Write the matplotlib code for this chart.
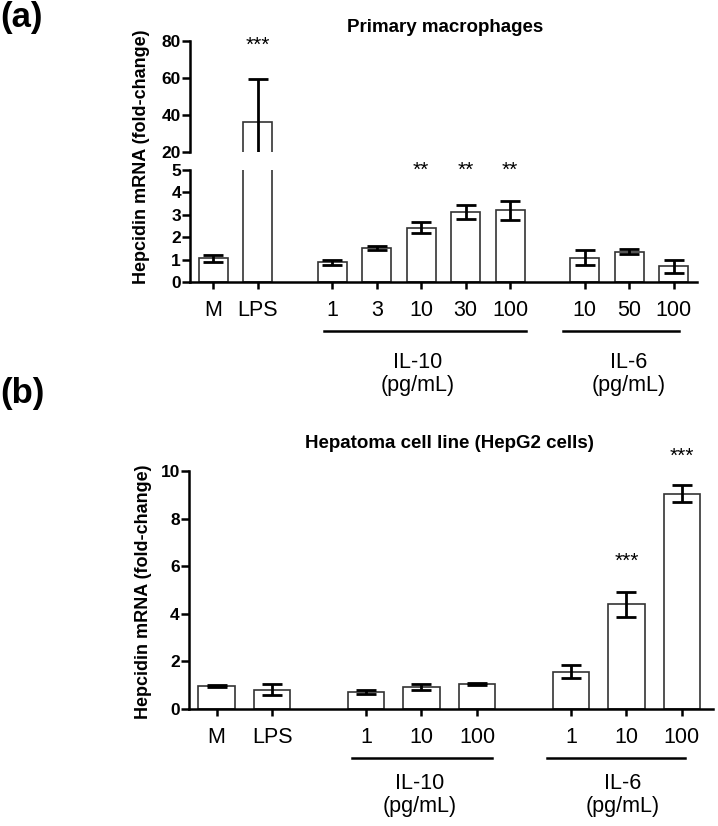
import numpy as np
import matplotlib
matplotlib.use('Agg')
import matplotlib.pyplot as plt

plt.rcParams['font.family'] = ['Liberation Sans', 'DejaVu Sans']

# panel (a) primary macrophages
a_labels = ['M', 'LPS', '1', '3', '10', '30', '100', '10', '50', '100']
a_sizes = [2, 5, 3]          # M/LPS, IL-10, IL-6
a_mean = [1.05, 36.2, 0.88, 1.51, 2.42, 3.13, 3.20, 1.09, 1.36, 0.70]
a_err = [0.14, 23.0, 0.11, 0.10, 0.25, 0.32, 0.42, 0.35, 0.11, 0.28]
a_stars = ['', '***', '', '', '**', '**', '**', '', '', '']

# panel (b) HepG2 cells
b_labels = ['M', 'LPS', '1', '10', '100', '1', '10', '100']
b_sizes = [2, 3, 3]
b_mean = [0.98, 0.82, 0.72, 0.92, 1.05, 1.57, 4.40, 9.05]
b_err = [0.05, 0.22, 0.07, 0.13, 0.05, 0.28, 0.52, 0.36]
b_stars = ['', '', '', '', '', '', '***', '***']

groups = ['IL-10\n(pg/mL)', 'IL-6\n(pg/mL)']


def positions(sizes, gap=0.68):
    pos, x = [], 0.0
    for n in sizes:
        for i in range(n):
            pos.append(x)
            x += 1
        x += gap
    return np.array(pos)


def style(ax, bottom=True):
    for s in ['top', 'right']:
        ax.spines[s].set_visible(False)
    ax.spines['left'].set_linewidth(1.8)
    ax.spines['bottom'].set_linewidth(1.8)
    ax.tick_params(axis='y', width=1.8, length=5.5, pad=1, labelsize=12.5)
    ax.tick_params(axis='x', width=1.8, length=5, pad=8, labelsize=15.5)
    for t in ax.get_yticklabels():
        t.set_fontweight('bold')
    if not bottom:
        ax.spines['bottom'].set_visible(False)
        ax.tick_params(axis='x', bottom=False, labelbottom=False)


def draw_bars(ax, x, mean, err, width):
    ax.bar(x, mean, width, color='white', edgecolor='#333333', linewidth=1.2, zorder=2)
    ax.errorbar(x, mean, yerr=err, fmt='none', ecolor='black', elinewidth=2,
                capsize=7, capthick=2, zorder=3)


fig = plt.figure(figsize=(7.18, 8.26), dpi=100)

# ---------- (a) ----------
xa = positions(a_sizes)
ax_top = fig.add_axes([0.2646, 0.816, 0.706, 0.1344])
ax_bot = fig.add_axes([0.2646, 0.6586, 0.706, 0.1356])
for ax in (ax_top, ax_bot):
    draw_bars(ax, xa, a_mean, a_err, 0.65)
    ax.set_xlim(-0.52, 10.88)
ax_top.set_ylim(20, 80)
ax_top.set_yticks([20, 40, 60, 80])
ax_bot.set_ylim(0, 5)
ax_bot.set_yticks([0, 1, 2, 3, 4, 5])
ax_bot.set_xticks(xa)
ax_bot.set_xticklabels(a_labels)
style(ax_top, bottom=False)
style(ax_bot)

for x, s in zip(xa, a_stars):
    if s == '***':
        ax_top.text(x, 77.5, s, ha='center', va='center', fontsize=15, clip_on=False)
    elif s:
        ax_bot.text(x, 5.0, s, ha='center', va='center', fontsize=15, clip_on=False)

a_lines = [(xa[2] - 0.18, xa[6] + 0.36), (xa[7] - 0.49, xa[9] + 0.12)]
a_text_x = [4.6, 9.35]
tr = ax_bot.get_xaxis_transform()
for (x0, x1), tx, g in zip(a_lines, a_text_x, groups):
    ax_bot.plot([x0, x1], [-0.4375, -0.4375], color='black', lw=1.8,
                transform=tr, clip_on=False)
    ax_bot.text(tx, -0.82, g, transform=tr, ha='center', va='center',
                fontsize=15.5, linespacing=1.1)

fig.text(445 / 718, 1 - 27 / 826, 'Primary macrophages', ha='center', va='center',
         fontsize=13.5, fontweight='bold')
fig.text(142 / 718, 1 - 157 / 826, 'Hepcidin mRNA (fold-change)', rotation=90,
         ha='center', va='center', fontsize=13, fontweight='bold')
fig.text(0.0, 1 - 18 / 826, '(a)', ha='left', va='center', fontsize=25, fontweight='bold')

# ---------- (b) ----------
xb = positions(b_sizes, gap=0.69)
ax_b = fig.add_axes([0.263, 0.1416, 0.730, 0.288])
draw_bars(ax_b, xb, b_mean, b_err, 0.66)
ax_b.set_xlim(-0.5, 8.94)
ax_b.set_ylim(0, 10)
ax_b.set_yticks([0, 2, 4, 6, 8, 10])
ax_b.set_xticks(xb)
ax_b.set_xticklabels(b_labels)
style(ax_b)

for x, m, s in zip(xb, b_mean, b_stars):
    if s:
        ax_b.text(x, m + 1.8 if m < 5 else m + 1.57, s, ha='center', va='center',
                  fontsize=15, clip_on=False)

b_lines = [(xb[2] - 0.25, xb[4] + 0.27), (xb[5] - 0.43, xb[7] + 0.05)]
b_text_x = [3.66, 7.31]
trb = ax_b.get_xaxis_transform()
for (x0, x1), tx, g in zip(b_lines, b_text_x, groups):
    ax_b.plot([x0, x1], [-0.206, -0.206], color='black', lw=1.8,
              transform=trb, clip_on=False)
    ax_b.text(tx, -0.361, g, transform=trb, ha='center', va='center',
              fontsize=15.5, linespacing=1.1)

fig.text(449 / 718, 1 - 443 / 826, 'Hepatoma cell line (HepG2 cells)', ha='center',
         va='center', fontsize=13.5, fontweight='bold')
fig.text(143 / 718, 1 - 592 / 826, 'Hepcidin mRNA (fold-change)', rotation=90,
         ha='center', va='center', fontsize=13, fontweight='bold')
fig.text(0.0, 1 - 393 / 826, '(b)', ha='left', va='center', fontsize=25, fontweight='bold')

fig.savefig('out.png', dpi=100)
